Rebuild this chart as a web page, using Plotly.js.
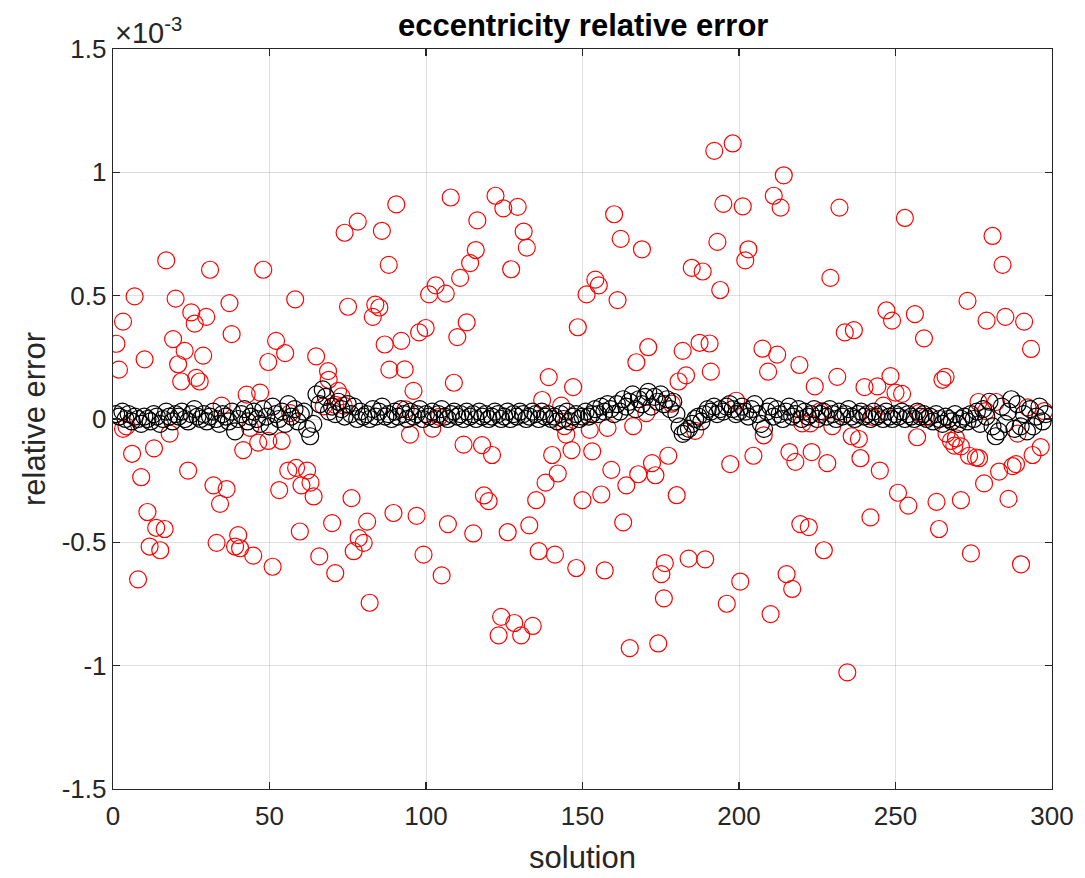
<!DOCTYPE html>
<html>
<head>
<meta charset="utf-8">
<script src="https://cdn.plot.ly/plotly-3.0.1.min.js"></script>
<style>html,body{margin:0;padding:0;background:#fff;}#chart{width:1085px;height:878px;}</style>
</head>
<body>
<div id="chart"></div>
<script>
// Values are in units of 1e-3 (the axis shows the ×10^-3 multiplier, as in the original)
const redX = [
  1.1,1.9,3.2,3.2,4.3,6.1,6.9,8.0,9.0,10.1,11.0,11.7,13.1,13.8,15.1,16.5,17.0,18.1,19.2,20.0,
  20.8,21.8,22.9,24.0,25.0,26.1,26.6,27.7,28.8,29.8,
  31.0,32.1,33.1,34.2,34.7,36.3,37.2,37.9,39.0,40.0,40.6,41.6,42.7,43.8,44.8,46.4,47.0,48.0,49.6,49.6,
  51.0,52.1,53.1,53.9,55.0,56.0,56.6,58.2,58.5,59.7,60.2,
  62.0,63.1,64.1,64.9,65.9,67.3,68.7,68.9,70.0,71.0,71.0,71.9,73.0,73.7,74.0,75.1,76.2,76.9,78.2,
  78.5,80.1,81.2,82.0,83.0,83.8,85.1,85.9,86.8,88.1,88.3,89.6,90.5,
  92.1,93.2,93.5,94.9,96.0,97.0,97.8,99.2,99.9,101.0,102.0,103.1,104.2,105.0,106.3,107.0,107.9,108.9,110.0,110.9,
  112.0,113.0,114.1,115.1,115.9,116.4,117.9,118.5,
  120.0,121.1,122.2,123.2,124.0,124.7,126.1,127.2,128.2,129.3,130.4,131.2,132.2,133.0,134.1,135.2,136.0,137.1,138.2,139.2,
  140.3,141.2,142.1,143.2,144.2,144.8,146.5,147.0,148.0,148.5,
  150.0,151.3,152.3,153.1,154.1,155.2,156.0,157.1,158.0,159.2,160.1,161.2,162.2,163.0,164.0,165.1,166.2,167.2,167.8,169.0,
  170.4,171.0,172.2,173.3,174.2,175.2,176.3,176.0,177.4,
  178.5,180.1,180.7,182.0,183.1,183.9,184.9,186.0,187.4,188.4,189.2,190.6,191.0,192.1,193.1,194.0,195.0,196.1,197.2,198.0,
  199.1,200.4,201.2,202.0,203.0,204.6,
  207.5,207.9,209.3,210.1,211.1,212.2,213.3,214.3,215.2,216.1,217.0,218.0,219.3,219.6,220.2,222.3,222.8,223.2,224.2,226.0,
  227.1,228.2,229.2,229.8,231.4,232.1,233.8,234.6,236.0,236.7,
  238.3,238.8,240.1,242.0,242.6,244.2,245.0,246.1,247.1,248.4,248.9,250.0,250.8,252.1,253.0,254.1,256.2,256.9,257.5,259.1,
  259.6,263.1,263.9,265.0,266.0,
  266.3,267.7,268.8,269.3,270.9,270.9,273.0,273.5,274.1,275.7,276.5,276.7,278.3,278.9,279.1,281.0,282.1,283.1,284.2,285.1,
  286.1,287.4,288.5,289.0,290.1,291.1,292.2,293.3,293.8,296.4,297.5
];
const redY = [
  0.305,0.200,0.395,-0.040,-0.030,-0.141,0.497,-0.650,-0.236,0.242,-0.377,-0.517,-0.119,-0.441,-0.532,-0.446,0.643,-0.059,0.324,0.488,
  0.222,0.152,0.276,-0.209,0.432,0.387,0.167,0.152,0.257,0.414,
  0.605,-0.269,-0.502,-0.344,0.054,-0.284,0.470,0.344,-0.517,-0.471,-0.524,-0.126,0.099,-0.036,-0.554,-0.096,0.107,0.605,0.231,-0.089,
  -0.599,0.317,-0.288,-0.089,0.267,-0.209,0.024,0.485,-0.198,-0.456,-0.269,
  -0.209,-0.258,-0.314,0.254,-0.557,0.051,0.194,0.159,-0.422,0.057,-0.625,0.114,0.092,0.054,0.755,0.455,-0.321,-0.536,0.800,
  -0.483,-0.502,-0.416,-0.745,0.414,0.464,0.452,0.763,0.302,0.625,0.200,-0.381,0.870,
  0.317,0.201,0.039,-0.063,0.114,-0.393,0.351,-0.550,0.369,0.505,-0.039,0.542,0.009,-0.634,0.508,-0.426,0.898,0.147,0.332,0.572,
  -0.104,0.392,0.632,-0.464,0.685,0.805,-0.106,-0.310,
  -0.333,-0.146,0.905,-0.877,-0.802,0.854,-0.459,0.607,-0.827,0.860,-0.877,0.760,0.695,-0.431,-0.839,-0.329,-0.536,0.077,-0.258,0.170,
  -0.146,-0.550,-0.221,0.054,-0.029,-0.063,-0.126,0.129,-0.604,0.372,
  -0.329,0.505,-0.044,-0.131,0.565,0.542,-0.306,-0.614,-0.036,-0.206,0.830,0.482,0.730,-0.419,-0.269,-0.929,-0.029,0.230,-0.224,0.688,
  0.024,0.291,-0.179,-0.228,-0.910,-0.629,-0.584,-0.727,-0.149,
  0.062,-0.309,0.152,0.276,0.177,-0.566,0.613,-0.048,0.309,0.598,-0.569,0.306,0.192,1.087,0.718,0.523,0.872,-0.749,-0.183,1.117,
  0.074,-0.659,0.862,0.643,0.688,-0.149,
  0.285,-0.066,0.192,-0.791,0.905,0.261,0.857,0.988,-0.629,-0.134,-0.689,-0.174,0.219,-0.426,-0.018,-0.438,-0.018,-0.134,0.132,0.032,
  -0.532,-0.179,0.572,-0.029,0.171,0.857,0.351,-1.027,-0.070,0.360,
  -0.081,-0.159,0.129,-0.399,0.009,0.132,-0.209,0.054,0.440,0.174,0.399,0.107,-0.299,0.102,0.815,-0.351,0.425,-0.074,0.024,0.327,
  0.009,-0.336,-0.446,0.159,0.171,
  -0.059,-0.089,-0.108,-0.078,-0.111,-0.329,0.479,-0.149,-0.545,-0.156,0.069,-0.159,-0.261,0.032,0.399,0.742,0.069,-0.213,0.625,0.414,
  -0.324,-0.191,-0.183,-0.059,-0.589,0.395,0.047,0.284,-0.146,-0.114,0.032
];
const blackX = [];
for (let i = 1; i <= 298; i++) blackX.push(i);
const blackY = [
  0.02,0.01,0.03,0.00,0.02,-0.01,0.01,0.00,-0.02,0.01,
  0.00,-0.01,0.02,0.01,-0.02,0.00,0.03,0.01,-0.01,0.02,
  0.01,0.03,0.00,-0.01,0.02,0.04,0.01,0.00,0.02,-0.01,
  0.01,0.03,0.00,-0.02,0.02,0.01,-0.01,0.03,-0.05,0.00,
  0.02,0.04,-0.01,0.01,0.03,0.00,-0.02,0.04,0.01,-0.03,
  0.05,0.02,0.00,0.03,-0.02,0.06,0.01,0.04,-0.01,0.02,
  0.03,-0.04,-0.07,-0.02,0.10,0.06,0.12,0.09,0.03,0.05,
  0.02,0.07,0.04,0.01,0.06,0.02,0.05,0.00,0.03,0.01,
  0.02,0.00,0.04,0.01,0.03,0.05,0.01,0.02,0.00,0.03,
  0.01,0.04,0.02,0.00,0.03,0.01,0.02,0.04,0.00,0.02,
  0.01,0.03,0.00,0.02,0.04,0.01,0.00,0.02,0.03,0.01,
  0.02,0.00,0.03,0.01,0.02,0.00,0.03,0.01,0.02,0.00,
  0.01,0.03,0.02,0.00,0.01,0.03,0.00,0.02,0.01,0.03,
  0.02,0.00,0.01,0.03,0.02,0.00,0.03,0.01,0.02,0.00,
  0.01,-0.01,0.02,0.00,0.03,-0.01,0.01,0.02,0.00,0.01,
  0.03,0.01,0.02,0.04,0.02,0.05,0.03,0.06,0.04,0.02,
  0.06,0.03,0.08,0.05,0.07,0.10,0.04,0.08,0.06,0.09,
  0.11,0.05,0.09,0.07,0.10,0.06,0.08,0.04,0.07,0.02,
  -0.03,-0.06,-0.05,-0.04,-0.02,0.00,0.01,-0.01,0.02,0.04,
  0.03,0.05,0.02,0.04,0.03,0.05,0.06,0.04,0.02,0.03,
  0.05,0.03,0.01,0.04,0.06,0.02,-0.02,-0.04,0.03,0.05,
  0.01,0.04,0.02,0.00,0.03,0.05,0.01,0.02,0.04,0.00,
  0.03,0.01,0.02,0.04,0.00,0.02,0.03,0.01,0.04,0.02,
  0.00,0.03,0.01,0.02,0.04,0.01,0.00,0.02,0.03,0.01,
  0.02,0.00,0.03,0.01,0.02,0.00,0.03,0.01,0.00,0.02,
  0.01,0.03,0.00,0.02,0.01,0.00,0.03,0.01,0.02,0.00,
  0.01,-0.01,0.02,0.00,-0.02,0.01,0.00,-0.01,0.02,-0.02,
  0.00,0.01,-0.01,0.02,0.00,0.03,-0.02,0.04,0.01,0.07,
  -0.03,-0.07,-0.05,0.05,-0.02,0.03,0.08,-0.04,0.06,-0.03,
  0.02,-0.05,0.04,-0.03,0.01,0.05,-0.01,0.02
];
const xTicks = [0, 50, 100, 150, 200, 250, 300];
const xTickText = ['0', '50', '100', '150', '200', '250', '300'];
const yTicks = [-1.5, -1, -0.5, 0, 0.5, 1, 1.5];
const yTickText = ['-1.5', '-1', '-0.5', '0', '0.5', '1', '1.5'];

const FONT = 'Liberation Sans, Arial, Helvetica, sans-serif';
const AX = '#262626';

const traces = [
  {x: redX, y: redY, type: 'scatter', mode: 'markers', name: 'red',
   marker: {symbol: 'circle-open', size: 17, color: '#ff0000', line: {width: 1.2, color: '#ff0000'}}},
  {x: blackX, y: blackY, type: 'scatter', mode: 'markers', name: 'black',
   marker: {symbol: 'circle-open', size: 17, color: '#000000', line: {width: 1.2, color: '#000000'}}}
];

const axisCommon = {
  showline: true, linecolor: AX, linewidth: 1.3, mirror: 'ticks',
  ticks: 'inside', ticklen: 7, tickcolor: AX, tickwidth: 1.2,
  showgrid: true, gridcolor: 'rgba(38,38,38,0.15)', gridwidth: 1,
  zeroline: false, tickmode: 'array',
  tickfont: {family: FONT, size: 26, color: AX}
};

const layout = {
  width: 1085, height: 878,
  margin: {l: 113, r: 33, t: 49, b: 89},
  paper_bgcolor: '#ffffff', plot_bgcolor: '#ffffff',
  showlegend: false,
  title: {text: '<b>eccentricity relative error</b>', x: 0.5375, xanchor: 'center', y: 0.971, yanchor: 'middle',
          font: {family: FONT, size: 31, color: '#000000'}},
  xaxis: Object.assign({}, axisCommon, {
    range: [0, 300], tickvals: xTicks, ticktext: xTickText, ticklabelstandoff: 3,
    title: {text: 'solution', font: {family: FONT, size: 31, color: AX}, standoff: 16}
  }),
  yaxis: Object.assign({}, axisCommon, {
    range: [-1.5, 1.5], tickvals: yTicks, ticktext: yTickText,
    title: {text: 'relative error', font: {family: FONT, size: 31, color: AX}, standoff: 6}
  }),
  annotations: [{
    xref: 'paper', yref: 'paper', x: 0, y: 1, xanchor: 'left', yanchor: 'bottom', yshift: -2,
    showarrow: false, text: '×10<sup>-3</sup>', font: {family: FONT, size: 29, color: AX}
  }]
};

Plotly.newPlot('chart', traces, layout, {displayModeBar: false, staticPlot: true});
</script>
</body>
</html>
